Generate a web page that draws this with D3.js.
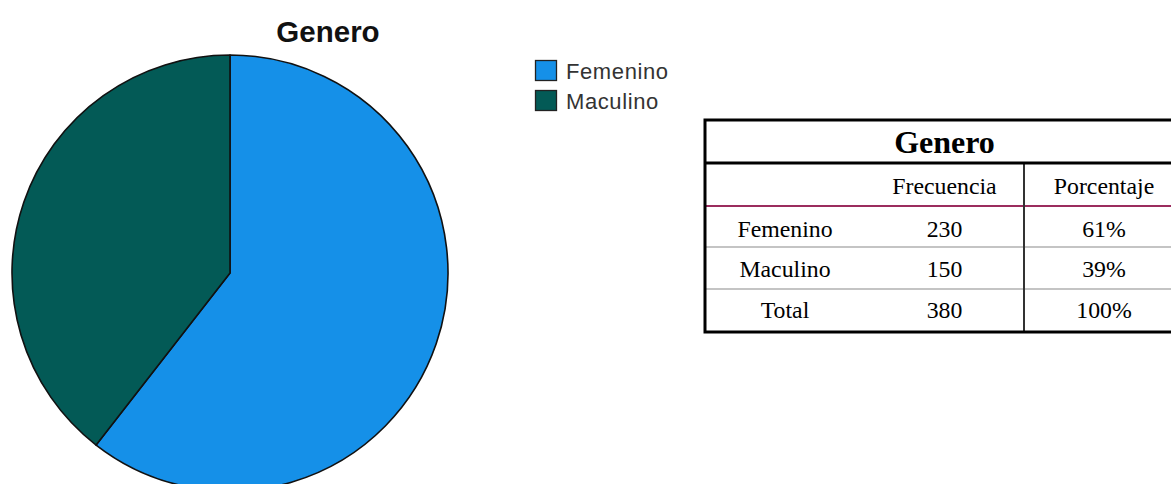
<!DOCTYPE html>
<html><head><meta charset="utf-8">
<script src="https://cdn.jsdelivr.net/npm/d3@7"></script>
<style>body{margin:0;background:#fff;}svg{display:block;}</style>
</head><body>
<script>
const categories = ["Femenino", "Maculino"];
const frequencies = [230, 150];
const percentages = ["61%", "39%"];
const totalLabel = "Total";
const totalFreq = 380;
const totalPct = "100%";
const colors = ["#1590e8", "#035a56"];
const chartTitle = "Genero";
const tableHeaders = ["", "Frecuencia", "Porcentaje"];

const W = 1171, H = 484;
const svg = d3.select("body").append("svg").attr("width", W).attr("height", H);

// Pie
const cx = 230, cy = 273, R = 218;
const pie = d3.pie().sort(null).value(d => d)(frequencies);
const arc = d3.arc().innerRadius(0).outerRadius(R);
const g = svg.append("g").attr("transform", `translate(${cx},${cy})`);
g.selectAll("path").data(pie).join("path")
  .attr("d", arc).attr("fill", (d, i) => colors[i])
  .attr("stroke", "#111").attr("stroke-width", 1.6).attr("stroke-linejoin", "round");

svg.append("text").attr("x", 328).attr("y", 42).attr("text-anchor", "middle")
  .attr("font-family", "Liberation Sans, Arial, sans-serif").attr("font-weight", "bold")
  .attr("font-size", 29.5).attr("fill", "#111").text(chartTitle);

// Legend
const lg = svg.append("g");
categories.forEach((c, i) => {
  const y = 60 + i * 30;
  lg.append("rect").attr("x", 535.5).attr("y", y + 0.5).attr("width", 21).attr("height", 20)
    .attr("fill", colors[i]).attr("stroke", "#222").attr("stroke-width", 1.3);
  lg.append("text").attr("x", 566).attr("y", y + 19)
    .attr("font-family", "Liberation Sans, Arial, sans-serif").attr("font-size", 22)
    .attr("letter-spacing", 0.6).attr("fill", "#333").text(c);
});

// Table
const tx0 = 705, tx1 = 1184;
const colX = [705, 865, 1024, 1184];
const serif = "Liberation Serif, Times New Roman, serif";
const t = svg.append("g");
t.append("text").attr("x", (tx0 + tx1) / 2).attr("y", 153).attr("text-anchor", "middle")
  .attr("font-family", serif).attr("font-weight", "bold").attr("font-size", 32).attr("fill", "#000").text(chartTitle);

const tableRows = [tableHeaders]
  .concat(categories.map((c, i) => [c, String(frequencies[i]), percentages[i]]))
  .concat([[totalLabel, String(totalFreq), totalPct]]);
const baselines = [194, 237, 277, 318];
tableRows.forEach((r, ri) => {
  r.forEach((v, ci) => {
    t.append("text").attr("x", (colX[ci] + colX[ci + 1]) / 2).attr("y", baselines[ri])
      .attr("text-anchor", "middle").attr("font-family", serif).attr("font-size", 23.8)
      .attr("fill", "#000").text(v);
  });
});
// lines
t.append("line").attr("x1", tx0).attr("x2", tx1).attr("y1", 247).attr("y2", 247).attr("stroke", "#c4c4c4").attr("stroke-width", 2);
t.append("line").attr("x1", tx0).attr("x2", tx1).attr("y1", 289).attr("y2", 289).attr("stroke", "#c4c4c4").attr("stroke-width", 2);
t.append("line").attr("x1", tx0).attr("x2", tx1).attr("y1", 206).attr("y2", 206).attr("stroke", "#9b2d5e").attr("stroke-width", 2);
t.append("line").attr("x1", 1024).attr("x2", 1024).attr("y1", 163).attr("y2", 332).attr("stroke", "#333").attr("stroke-width", 2);
t.append("line").attr("x1", tx0).attr("x2", tx1).attr("y1", 163).attr("y2", 163).attr("stroke", "#000").attr("stroke-width", 3);
t.append("rect").attr("x", tx0).attr("y", 120).attr("width", tx1 - tx0).attr("height", 212)
  .attr("fill", "none").attr("stroke", "#000").attr("stroke-width", 3);
</script>
</body></html>
